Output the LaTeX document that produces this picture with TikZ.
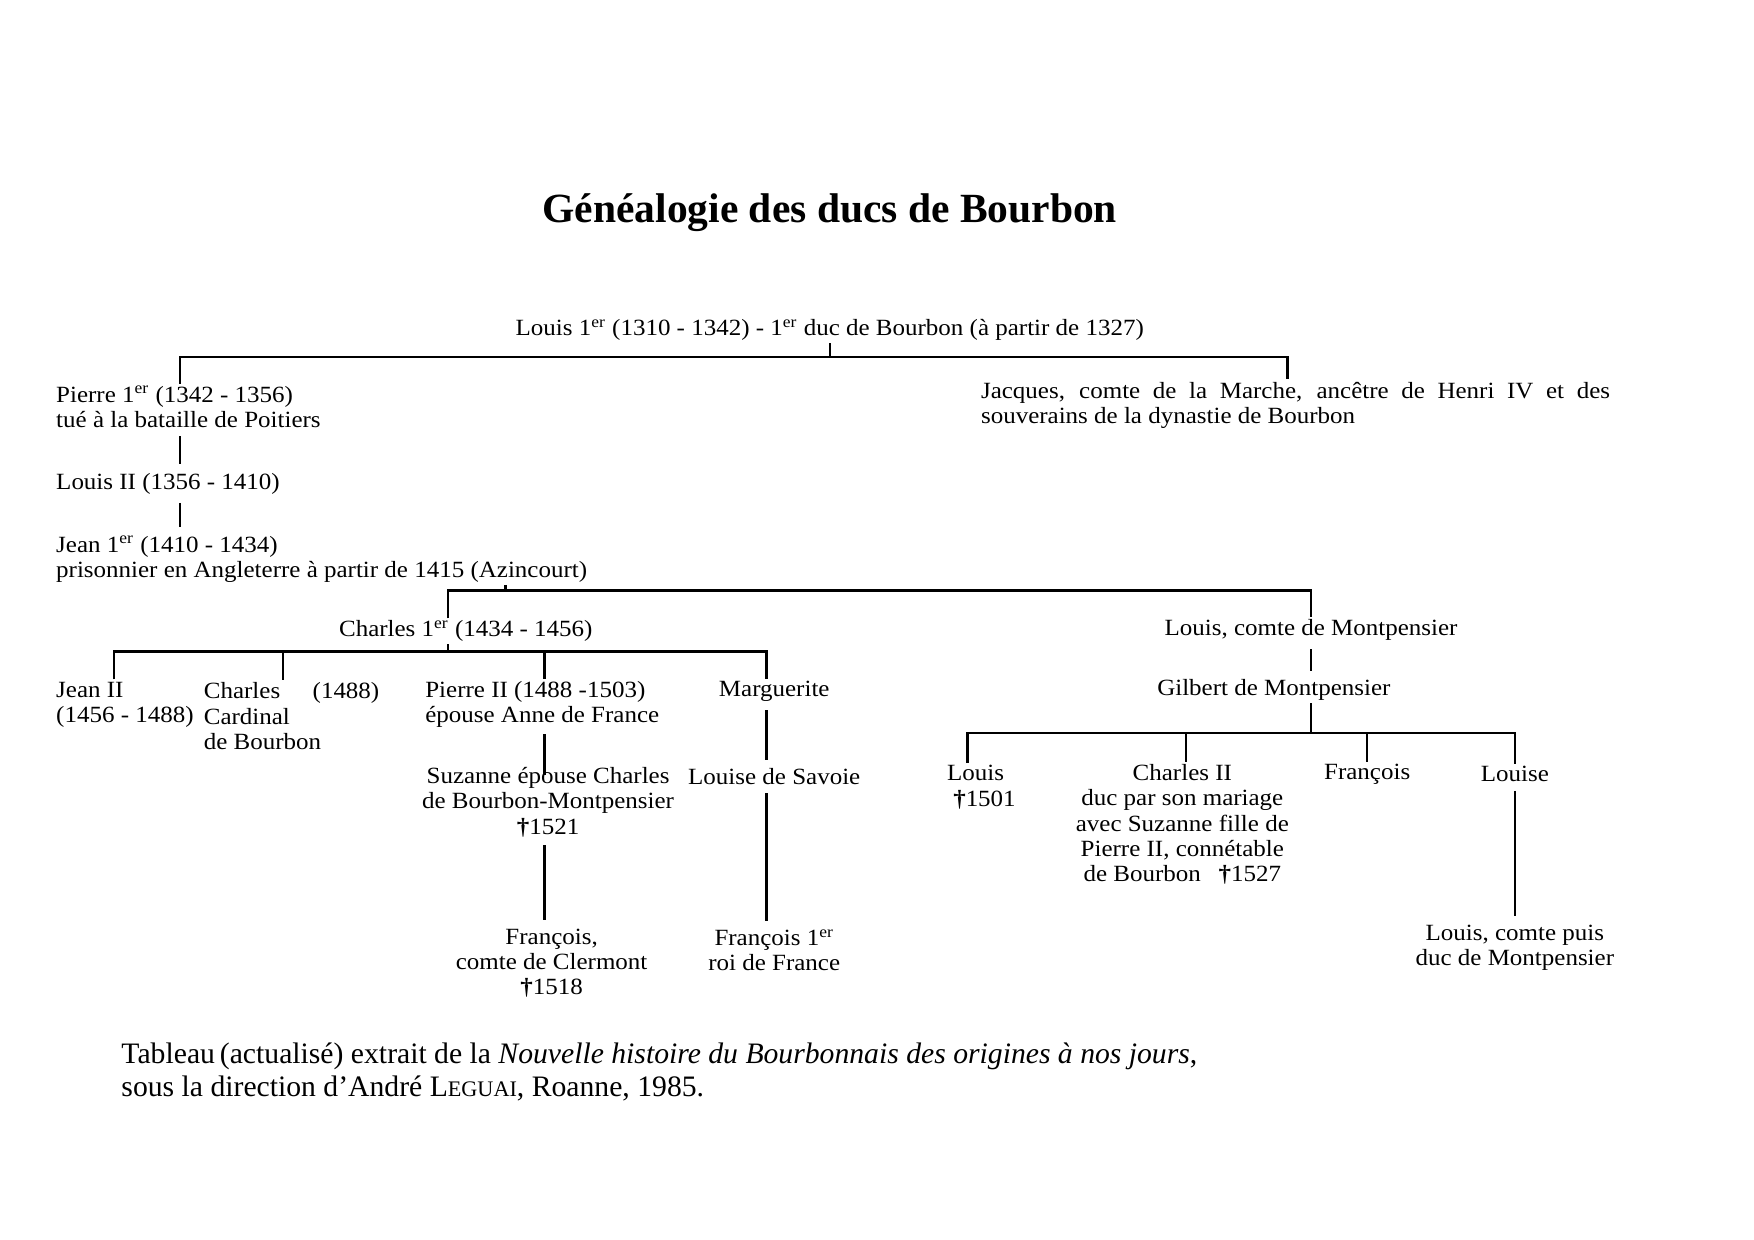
\documentclass[tikz,border=0pt]{standalone}
\usepackage{fontspec}
\setmainfont{Liberation Serif}
\newfontfamily\chartfont[FakeStretch=1.075]{Liberation Serif}
\usetikzlibrary{positioning,calc}

\begin{document}
\begin{tikzpicture}[
    person/.style={inner sep=1pt, font=\chartfont\fontsize{11.2}{12.2}\selectfont, align=left},
    personc/.style={person, align=center},
    line/.style={line width=1.1pt},
    link/.style={line, shorten <=3pt, shorten >=3pt}
]
\useasboundingbox (0,0) rectangle (29.7,20.99);

% Titre
\node[font=\bfseries\fontsize{20}{23}\selectfont] (title) at (14.05,17.39) {Généalogie des ducs de Bourbon};

% Louis Ier et ses fils
\node[personc] (louisI) at (14.05,15.40) {Louis 1\textsuperscript{er} (1310 - 1342) - 1\textsuperscript{er} duc de Bourbon (à partir de 1327)};
\node[person, anchor=west] (pierreI) at (0.91,14.10) {Pierre 1\textsuperscript{er} (1342 - 1356)\\tué à la bataille de Poitiers};
\node[person, anchor=west] (jacques) at (16.57,14.13) {\makebox[10.65cm][s]{Jacques, comte de la Marche, ancêtre de Henri IV et des}\\souverains de la dynastie de Bourbon};
\node[person, anchor=west] (louisII) at (0.91,12.80) {Louis II (1356 - 1410)};
\node[person, anchor=west] (jeanI) at (0.91,11.52) {Jean 1\textsuperscript{er} (1410 - 1434)\\prisonnier en Angleterre à partir de 1415 (Azincourt)};

% Branche de Bourbon
\node[person, anchor=west] (charlesI) at (5.70,10.30) {Charles 1\textsuperscript{er} (1434 - 1456)};
\node[person, anchor=west] (jeanII) at (0.91,9.06) {Jean II\\(1456 - 1488)};
\node[person, anchor=west] (cardinal) at (3.41,8.86) {Charles\hspace{0.55cm}(1488)\\Cardinal\\de Bourbon};
\node[person, anchor=west] (pierreII) at (7.16,9.06) {Pierre II (1488 -1503)\\épouse Anne de France};
\node[personc] (marguerite) at (13.11,9.28) {Marguerite};
\node[personc] (suzanne) at (9.28,7.41) {Suzanne épouse Charles\\de Bourbon-Montpensier\\\textbf{†}1521};
\node[personc] (louise) at (13.11,7.84) {Louise de Savoie};
\node[personc] (francoisC) at (9.34,4.68) {François,\\comte de Clermont\\\textbf{†}1518};
\node[personc] (francoisI) at (13.11,4.90) {François 1\textsuperscript{er}\\roi de France};

% Branche de Montpensier
\node[personc] (montp) at (22.20,10.32) {Louis, comte de Montpensier};
\node[personc] (gilbert) at (21.57,9.30) {Gilbert de Montpensier};
\node[personc] (louisM) at (16.52,7.66) {Louis\\\hspace{0.3cm}\textbf{†}1501};
\node[personc] (charlesII) at (20.02,7.03) {Charles II\\duc par son mariage\\avec Suzanne fille de\\Pierre II, connétable\\de Bourbon\hspace{0.3cm}\textbf{†}1527};
\node[personc] (francoisM) at (23.15,7.88) {François};
\node[personc] (louiseM) at (25.65,7.88) {Louise};
\node[personc] (louisCP) at (25.65,4.94) {Louis, comte puis\\duc de Montpensier};

% Source
\node[anchor=west, align=left, inner sep=0pt, font=\fontsize{14.3}{15.8}\selectfont] (source) at (2.05,2.84) {Tableau\,(actualisé) extrait de la \textit{Nouvelle histoire du Bourbonnais des origines à nos jours},\\sous la direction d’André L{\fontsize{10.7}{12}\selectfont EGUAI}, Roanne, 1985.};

% Barres de filiation
\coordinate (bar1L) at (3.05,14.94);
\coordinate (bar1R) at (21.80,14.94);
\coordinate (bar2L) at (7.58,10.99);
\coordinate (bar2T) at (8.56,10.99);
\coordinate (bar2R) at (22.20,10.99);
\coordinate (bar3L) at (1.93,9.96);
\coordinate (bar3A) at (4.79,9.96);
\coordinate (bar3B) at (9.22,9.96);
\coordinate (bar3R) at (12.98,9.96);
\coordinate (bar4L) at (16.38,8.58);
\coordinate (bar4A) at (20.08,8.58);
\coordinate (bar4M) at (22.20,8.58);
\coordinate (bar4B) at (23.15,8.58);
\coordinate (bar4R) at (25.65,8.58);

% Louis Ier
\draw[line] (louisI.south) -- (louisI.south |- bar1L);
\draw[line] (bar1L |- pierreI.north) -- (bar1L) -- (bar1R) -- (bar1R |- jacques.north);
\draw[link] (bar1L |- pierreI.south) -- (bar1L |- louisII.north);
\draw[link] (bar1L |- louisII.south) -- (bar1L |- jeanI.north);

% Jean Ier
\draw[line] (bar2T |- jeanI.south) -- (bar2T);
\draw[line] (bar2L |- charlesI.north) -- (bar2L) -- (bar2R) -- (bar2R |- montp.north);

% Charles Ier
\draw[line] (bar2L |- charlesI.south) -- (bar2L |- bar3L);
\draw[line] (bar3L |- jeanII.north) -- (bar3L) -- (bar3R) -- (bar3R |- marguerite.north);
\draw[line] (bar3A) -- (bar3A |- cardinal.north);
\draw[line] (bar3B) -- (bar3B |- pierreII.north);
\draw[line, shorten <=2pt, shorten >=-5pt] (bar3B |- pierreII.south) -- (bar3B |- suzanne.north);
\draw[link] (bar3B |- suzanne.south) -- (bar3B |- francoisC.north);
\draw[link] (bar3R |- marguerite.south) -- (bar3R |- louise.north);
\draw[link] (bar3R |- louise.south) -- (bar3R |- francoisI.north);

% Montpensier
\draw[link] (montp.south) -- (montp.south |- gilbert.north);
\draw[line] (bar4M |- gilbert.south) -- (bar4M);
\draw[line] (bar4L |- louisM.north) -- (bar4L) -- (bar4R) -- (bar4R |- louiseM.north);
\draw[line] (bar4A) -- (bar4A |- charlesII.north);
\draw[line] (bar4B) -- (bar4B |- francoisM.north);
\draw[link] (louiseM.south) -- (louisCP.north);

\end{tikzpicture}
\end{document}
